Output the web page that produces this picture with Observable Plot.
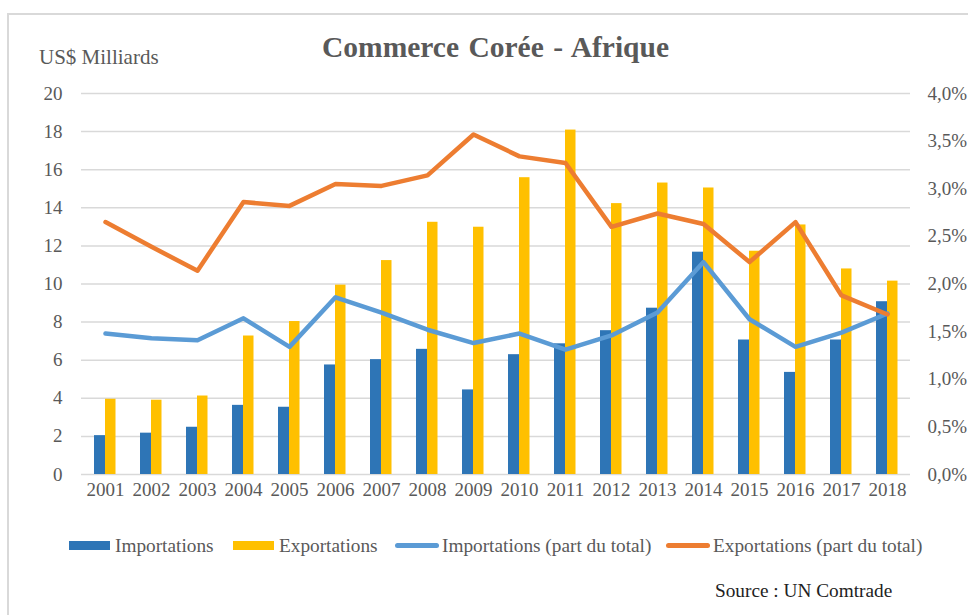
<!DOCTYPE html>
<html>
<head>
<meta charset="utf-8">
<script src="https://cdn.jsdelivr.net/npm/d3@7"></script>
<script src="https://cdn.jsdelivr.net/npm/@observablehq/plot@0.6"></script>
<style>
  html, body { margin: 0; padding: 0; background: #fff; overflow: hidden; }
  #wrap { position: relative; width: 968px; height: 615px; overflow: hidden; font-family: "Liberation Serif", "Times New Roman", serif; color: #595959; }
  #frame { position: absolute; left: 7px; top: 13px; width: 1000px; height: 700px; border-left: 2px solid #d9d9d9; border-top: 2px solid #d9d9d9; }
  #chart { position: absolute; left: 0; top: 0; }
  #chart svg text { font-family: "Liberation Serif", "Times New Roman", serif; }
  .t { position: absolute; white-space: nowrap; }
  #title { left: 322px; top: 31px; font-size: 29.5px; font-weight: bold; word-spacing: 2px; }
  #ylab { left: 39px; top: 45px; font-size: 21px; }
  #source { left: 715px; top: 580px; font-size: 19.3px; color: #222; }
  .leg { position: absolute; top: 535px; font-size: 19.3px; white-space: nowrap; }
  .sw { position: absolute; }
</style>
</head>
<body>
<div id="wrap">
  <div id="frame"></div>
  <div id="chart"></div>
  <div class="t" id="title">Commerce Corée - Afrique</div>
  <div class="t" id="ylab">US$ Milliards</div>
  <div id="legend"></div>
  <div class="t" id="source">Source : UN Comtrade</div>
</div>
<script>
const years = ["2001","2002","2003","2004","2005","2006","2007","2008","2009","2010","2011","2012","2013","2014","2015","2016","2017","2018"];
const importations = [2.04, 2.17, 2.48, 3.63, 3.53, 5.75, 6.03, 6.57, 4.44, 6.29, 6.86, 7.55, 8.73, 11.67, 7.06, 5.36, 7.06, 9.07];
const exportations = [3.95, 3.90, 4.12, 7.27, 8.03, 9.94, 11.23, 13.24, 12.98, 15.58, 18.08, 14.22, 15.30, 15.04, 11.72, 13.10, 10.79, 10.15];
// parts du total (en %)
const importationsPart = [1.48, 1.43, 1.41, 1.64, 1.34, 1.86, 1.70, 1.52, 1.38, 1.48, 1.31, 1.46, 1.70, 2.23, 1.63, 1.34, 1.49, 1.69];
const exportationsPart = [2.65, 2.39, 2.14, 2.86, 2.82, 3.05, 3.03, 3.14, 3.57, 3.34, 3.27, 2.60, 2.74, 2.63, 2.23, 2.65, 1.88, 1.68];
const leftTicks = [0, 2, 4, 6, 8, 10, 12, 14, 16, 18, 20];
const rightTicks = [0, 0.5, 1, 1.5, 2, 2.5, 3, 3.5, 4];

const colors = {imp: "#2E75B6", exp: "#FFC000", impLine: "#5B9BD5", expLine: "#ED7D31"};
const legendItems = [
  {label: "Importations", color: colors.imp, type: "bar"},
  {label: "Exportations", color: colors.exp, type: "bar"},
  {label: "Importations (part du total)", color: colors.impLine, type: "line"},
  {label: "Exportations (part du total)", color: colors.expLine, type: "line"}
];

// percent axis shares the same pixel range: 4,0% <-> 20
const pctFactor = leftTicks[leftTicks.length - 1] / rightTicks[rightTicks.length - 1];

const data = years.map((year, i) => ({
  year,
  imp: importations[i],
  exp: exportations[i],
  impPart: importationsPart[i],
  expPart: exportationsPart[i]
}));

const chart = Plot.plot({
  width: 968,
  height: 510,
  marginTop: 93,
  marginBottom: 36,
  marginLeft: 81,
  marginRight: 58,
  style: {fontFamily: "'Liberation Serif', serif", fontSize: "19px", color: "#595959", background: "transparent"},
  x: {type: "band", domain: years, padding: 0},
  y: {domain: [0, 20]},
  marks: [
    Plot.ruleY(leftTicks, {stroke: "#d9d9d9", strokeWidth: 1.5}),
    Plot.barY(data, {x: "year", y: "imp", fill: colors.imp, insetLeft: 12, insetRight: 23}),
    Plot.barY(data, {x: "year", y: "exp", fill: colors.exp, insetLeft: 23, insetRight: 12.5}),
    Plot.lineY(data, {x: "year", y: d => d.impPart * pctFactor, stroke: colors.impLine, strokeWidth: 4.5, strokeLinejoin: "round"}),
    Plot.lineY(data, {x: "year", y: d => d.expPart * pctFactor, stroke: colors.expLine, strokeWidth: 4.5, strokeLinejoin: "round"}),
    Plot.axisX({tickSize: 0, tickPadding: 8, label: null, fill: "#595959"}),
    Plot.axisY({anchor: "left", ticks: leftTicks, tickSize: 0, tickPadding: 19, label: null, fill: "#595959"}),
    Plot.axisY({anchor: "right", ticks: rightTicks.map(p => p * pctFactor), tickSize: 0, tickPadding: 17, label: null, fill: "#595959",
      tickFormat: d => (d / pctFactor).toFixed(1).replace(".", ",") + "%"})
  ]
});
document.getElementById("chart").appendChild(chart);

// legend
const legend = document.getElementById("legend");
const legendX = [69, 233, 395, 666];
legendItems.forEach((it, i) => {
  const x = legendX[i];
  const sw = document.createElement("div");
  sw.className = "sw";
  sw.style.left = x + "px";
  sw.style.width = (it.type === "bar" ? 41 : 44) + "px";
  if (it.type === "bar") { sw.style.top = "541px"; sw.style.height = "9px"; }
  else { sw.style.top = "543px"; sw.style.height = "5px"; sw.style.borderRadius = "3px"; }
  sw.style.background = it.color;
  legend.appendChild(sw);
  const tx = document.createElement("div");
  tx.className = "leg";
  tx.style.left = (x + (it.type === "bar" ? 46 : 47)) + "px";
  tx.textContent = it.label;
  legend.appendChild(tx);
});
</script>
</body>
</html>
